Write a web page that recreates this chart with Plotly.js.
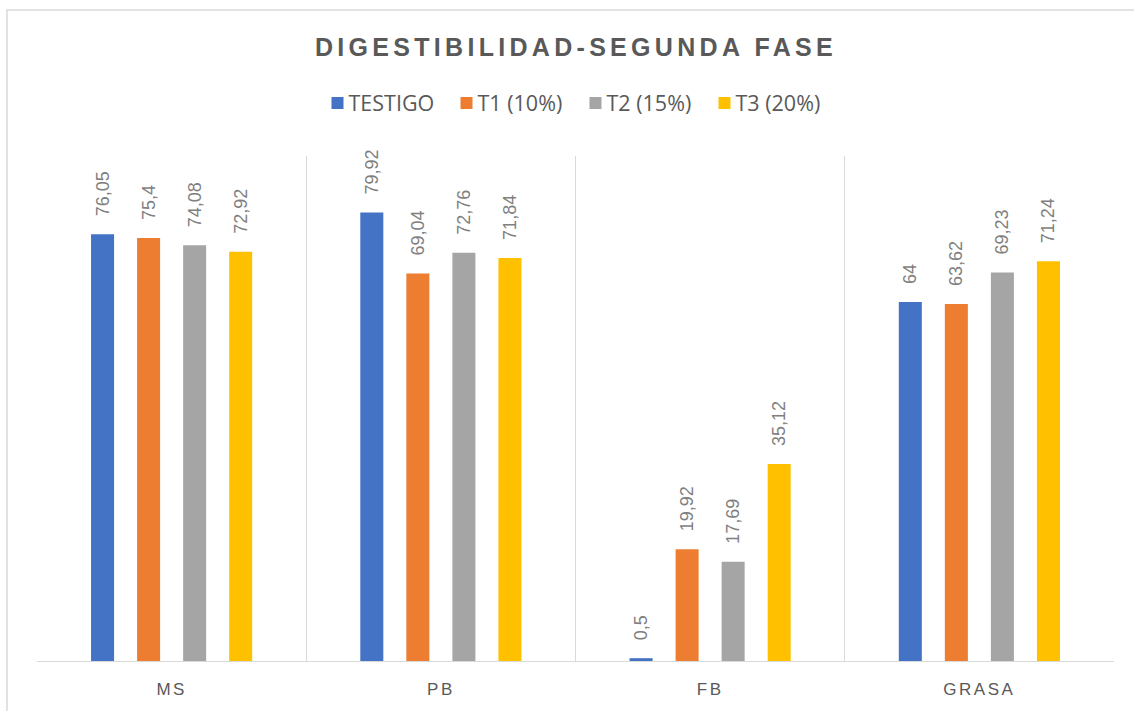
<!DOCTYPE html>
<html>
<head>
<meta charset="utf-8">
<script src="https://cdn.plot.ly/plotly-3.0.1.min.js"></script>
<style>
  html, body { margin: 0; padding: 0; background: #fff; }
  #chart { width: 1134px; height: 711px; }
  .gtitle { letter-spacing: 4.3px; }
  .xtick text { letter-spacing: 2.5px; }
</style>
</head>
<body>
<div id="chart"></div>
<script>
const categories = ["MS", "PB", "FB", "GRASA"];
const seriesNames = ["TESTIGO", "T1 (10%)", "T2 (15%)", "T3 (20%)"];
const testigo = [76.05, 79.92, 0.5, 64];
const t1 = [75.4, 69.04, 19.92, 63.62];
const t2 = [74.08, 72.76, 17.69, 69.23];
const t3 = [72.92, 71.84, 35.12, 71.24];
const colors = ["#4472C4", "#ED7D31", "#A5A5A5", "#FFC000"];

const allSeries = [testigo, t1, t2, t3];
const fmt = v => "\u00a0\u00a0\u00a0" + String(v).replace(".", ",");

const traces = allSeries.map((vals, i) => ({
  type: "bar",
  name: seriesNames[i],
  x: categories,
  y: vals,
  text: vals.map(fmt),
  textposition: "outside",
  textangle: -90,
  constraintext: "none",
  cliponaxis: false,
  textfont: { family: "Liberation Sans, Arial, sans-serif", size: 18, color: "#7F7F7F" },
  marker: { color: colors[i] },
  hoverinfo: "skip"
}));

const layout = {
  width: 1134,
  height: 711,
  margin: { l: 37, r: 20, t: 156, b: 50 },
  paper_bgcolor: "#ffffff",
  plot_bgcolor: "#ffffff",
  barmode: "group",
  bargap: 0.316,
  bargroupgap: 0.5,
  showlegend: true,
  title: {
    text: "<b>DIGESTIBILIDAD-SEGUNDA FASE</b>",
    font: { family: "Liberation Sans, Arial, sans-serif", size: 25, color: "#595959" },
    x: 576 / 1134, xanchor: "center", xref: "container",
    y: 1 - 47 / 711, yanchor: "middle", yref: "container"
  },
  legend: {
    orientation: "h",
    x: 0.5, xanchor: "center",
    y: 1 + (156 - 103) / 505, yanchor: "middle",
    font: { family: "Open Sans, sans-serif", size: 21.5, color: "#595959" },
    entrywidth: 84,
    entrywidthmode: "pixels",
    itemwidth: 30,
    traceorder: "normal"
  },
  xaxis: {
    type: "category",
    range: [-0.5, 3.5],
    tickson: "boundaries",
    showgrid: true,
    gridcolor: "#D9D9D9",
    gridwidth: 1,
    ticks: "",
    showline: true,
    linecolor: "#D9D9D9",
    linewidth: 1,
    ticklabelstandoff: 13,
    tickfont: { family: "Liberation Sans, Arial, sans-serif", size: 17, color: "#595959" },
    fixedrange: true
  },
  yaxis: {
    range: [0, 90],
    showgrid: false,
    zeroline: false,
    showticklabels: false,
    ticks: "",
    showline: false,
    fixedrange: true
  },
  shapes: [{
    type: "rect",
    xref: "paper", yref: "paper",
    x0: (7 - 37) / 1077, x1: 1.2,
    y0: -0.3, y1: 1 + (156 - 10) / 505,
    line: { color: "#D9D9D9", width: 1.5 },
    fillcolor: "rgba(0,0,0,0)",
    layer: "below"
  }]
};

Plotly.newPlot("chart", traces, layout, { displayModeBar: false, staticPlot: true }).then(gd => {
  gd.querySelectorAll(".legend .legendtext").forEach(t => t.setAttribute("x", "31"));
});
</script>
</body>
</html>
